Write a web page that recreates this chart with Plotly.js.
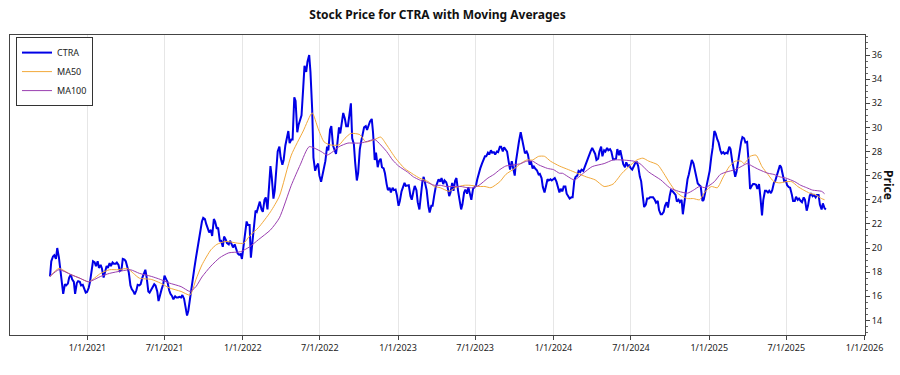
<!DOCTYPE html>
<html>
<head>
<meta charset="utf-8">
<script src="https://cdn.plot.ly/plotly-3.0.1.min.js"></script>
<style>html,body{margin:0;padding:0;background:#fff;}#chart{width:900px;height:375px;}</style>
</head>
<body>
<div id="chart"></div>
<script>
// CTRA closing prices (Mondays and Thursdays)
const dates = [
"2020-10-05","2020-10-08","2020-10-12","2020-10-15","2020-10-19","2020-10-22","2020-10-26","2020-10-29",
"2020-11-02","2020-11-05","2020-11-09","2020-11-12","2020-11-16","2020-11-19","2020-11-23","2020-11-26","2020-11-30","2020-12-03",
"2020-12-07","2020-12-10","2020-12-14","2020-12-17","2020-12-21","2020-12-24","2020-12-28","2020-12-31",
"2021-01-04","2021-01-07","2021-01-11","2021-01-14","2021-01-18","2021-01-21","2021-01-25","2021-01-28",
"2021-02-01","2021-02-04","2021-02-08","2021-02-11","2021-02-15","2021-02-18","2021-02-22","2021-02-25",
"2021-03-01","2021-03-04","2021-03-08","2021-03-11","2021-03-15","2021-03-18","2021-03-22","2021-03-25","2021-03-29","2021-04-01",
"2021-04-05","2021-04-08","2021-04-12","2021-04-15","2021-04-19","2021-04-22","2021-04-26","2021-04-29",
"2021-05-03","2021-05-06","2021-05-10","2021-05-13","2021-05-17","2021-05-20","2021-05-24","2021-05-27","2021-05-31","2021-06-03",
"2021-06-07","2021-06-10","2021-06-14","2021-06-17","2021-06-21","2021-06-24","2021-06-28","2021-07-01",
"2021-07-05","2021-07-08","2021-07-12","2021-07-15","2021-07-19","2021-07-22","2021-07-26","2021-07-29",
"2021-08-02","2021-08-05","2021-08-09","2021-08-12","2021-08-16","2021-08-19","2021-08-23","2021-08-26","2021-08-30","2021-09-02",
"2021-09-06","2021-09-09","2021-09-13","2021-09-16","2021-09-20","2021-09-23","2021-09-27","2021-09-30",
"2021-10-04","2021-10-07","2021-10-11","2021-10-14","2021-10-18","2021-10-21","2021-10-25","2021-10-28",
"2021-11-01","2021-11-04","2021-11-08","2021-11-11","2021-11-15","2021-11-18","2021-11-22","2021-11-25","2021-11-29","2021-12-02",
"2021-12-06","2021-12-09","2021-12-13","2021-12-16","2021-12-20","2021-12-23","2021-12-27","2021-12-30",
"2022-01-03","2022-01-06","2022-01-10","2022-01-13","2022-01-17","2022-01-20","2022-01-24","2022-01-27","2022-01-31","2022-02-03",
"2022-02-07","2022-02-10","2022-02-14","2022-02-17","2022-02-21","2022-02-24","2022-02-28","2022-03-03",
"2022-03-07","2022-03-10","2022-03-14","2022-03-17","2022-03-21","2022-03-24","2022-03-28","2022-03-31",
"2022-04-04","2022-04-07","2022-04-11","2022-04-14","2022-04-18","2022-04-21","2022-04-25","2022-04-28",
"2022-05-02","2022-05-05","2022-05-09","2022-05-12","2022-05-16","2022-05-19","2022-05-23","2022-05-26","2022-05-30","2022-06-02",
"2022-06-06","2022-06-09","2022-06-13","2022-06-16","2022-06-20","2022-06-23","2022-06-27","2022-06-30",
"2022-07-04","2022-07-07","2022-07-11","2022-07-14","2022-07-18","2022-07-21","2022-07-25","2022-07-28",
"2022-08-01","2022-08-04","2022-08-08","2022-08-11","2022-08-15","2022-08-18","2022-08-22","2022-08-25","2022-08-29","2022-09-01",
"2022-09-05","2022-09-08","2022-09-12","2022-09-15","2022-09-19","2022-09-22","2022-09-26","2022-09-29",
"2022-10-03","2022-10-06","2022-10-10","2022-10-13","2022-10-17","2022-10-20","2022-10-24","2022-10-27","2022-10-31","2022-11-03",
"2022-11-07","2022-11-10","2022-11-14","2022-11-17","2022-11-21","2022-11-24","2022-11-28","2022-12-01",
"2022-12-05","2022-12-08","2022-12-12","2022-12-15","2022-12-19","2022-12-22","2022-12-26","2022-12-29",
"2023-01-02","2023-01-05","2023-01-09","2023-01-12","2023-01-16","2023-01-19","2023-01-23","2023-01-26","2023-01-30","2023-02-02",
"2023-02-06","2023-02-09","2023-02-13","2023-02-16","2023-02-20","2023-02-23","2023-02-27","2023-03-02",
"2023-03-06","2023-03-09","2023-03-13","2023-03-16","2023-03-20","2023-03-23","2023-03-27","2023-03-30",
"2023-04-03","2023-04-06","2023-04-10","2023-04-13","2023-04-17","2023-04-20","2023-04-24","2023-04-27",
"2023-05-01","2023-05-04","2023-05-08","2023-05-11","2023-05-15","2023-05-18","2023-05-22","2023-05-25","2023-05-29","2023-06-01",
"2023-06-05","2023-06-08","2023-06-12","2023-06-15","2023-06-19","2023-06-22","2023-06-26","2023-06-29",
"2023-07-03","2023-07-06","2023-07-10","2023-07-13","2023-07-17","2023-07-20","2023-07-24","2023-07-27","2023-07-31","2023-08-03",
"2023-08-07","2023-08-10","2023-08-14","2023-08-17","2023-08-21","2023-08-24","2023-08-28","2023-08-31",
"2023-09-04","2023-09-07","2023-09-11","2023-09-14","2023-09-18","2023-09-21","2023-09-25","2023-09-28",
"2023-10-02","2023-10-05","2023-10-09","2023-10-12","2023-10-16","2023-10-19","2023-10-23","2023-10-26","2023-10-30","2023-11-02",
"2023-11-06","2023-11-09","2023-11-13","2023-11-16","2023-11-20","2023-11-23","2023-11-27","2023-11-30",
"2023-12-04","2023-12-07","2023-12-11","2023-12-14","2023-12-18","2023-12-21","2023-12-25","2023-12-28",
"2024-01-01","2024-01-04","2024-01-08","2024-01-11","2024-01-15","2024-01-18","2024-01-22","2024-01-25","2024-01-29","2024-02-01",
"2024-02-05","2024-02-08","2024-02-12","2024-02-15","2024-02-19","2024-02-22","2024-02-26","2024-02-29",
"2024-03-04","2024-03-07","2024-03-11","2024-03-14","2024-03-18","2024-03-21","2024-03-25","2024-03-28",
"2024-04-01","2024-04-04","2024-04-08","2024-04-11","2024-04-15","2024-04-18","2024-04-22","2024-04-25","2024-04-29","2024-05-02",
"2024-05-06","2024-05-09","2024-05-13","2024-05-16","2024-05-20","2024-05-23","2024-05-27","2024-05-30",
"2024-06-03","2024-06-06","2024-06-10","2024-06-13","2024-06-17","2024-06-20","2024-06-24","2024-06-27",
"2024-07-01","2024-07-04","2024-07-08","2024-07-11","2024-07-15","2024-07-18","2024-07-22","2024-07-25","2024-07-29","2024-08-01",
"2024-08-05","2024-08-08","2024-08-12","2024-08-15","2024-08-19","2024-08-22","2024-08-26","2024-08-29",
"2024-09-02","2024-09-05","2024-09-09","2024-09-12","2024-09-16","2024-09-19","2024-09-23","2024-09-26","2024-09-30","2024-10-03",
"2024-10-07","2024-10-10","2024-10-14","2024-10-17","2024-10-21","2024-10-24","2024-10-28","2024-10-31",
"2024-11-04","2024-11-07","2024-11-11","2024-11-14","2024-11-18","2024-11-21","2024-11-25","2024-11-28",
"2024-12-02","2024-12-05","2024-12-09","2024-12-12","2024-12-16","2024-12-19","2024-12-23","2024-12-26","2024-12-30","2025-01-02",
"2025-01-06","2025-01-09","2025-01-13","2025-01-16","2025-01-20","2025-01-23","2025-01-27","2025-01-30",
"2025-02-03","2025-02-06","2025-02-10","2025-02-13","2025-02-17","2025-02-20","2025-02-24","2025-02-27",
"2025-03-03","2025-03-06","2025-03-10","2025-03-13","2025-03-17","2025-03-20","2025-03-24","2025-03-27","2025-03-31","2025-04-03",
"2025-04-07","2025-04-10","2025-04-14","2025-04-17","2025-04-21","2025-04-24","2025-04-28","2025-05-01",
"2025-05-05","2025-05-08","2025-05-12","2025-05-15","2025-05-19","2025-05-22","2025-05-26","2025-05-29",
"2025-06-02","2025-06-05","2025-06-09","2025-06-12","2025-06-16","2025-06-19","2025-06-23","2025-06-26","2025-06-30","2025-07-03",
"2025-07-07","2025-07-10","2025-07-14","2025-07-17","2025-07-21","2025-07-24","2025-07-28","2025-07-31",
"2025-08-04","2025-08-07","2025-08-11","2025-08-14","2025-08-18","2025-08-21","2025-08-25","2025-08-28",
"2025-09-01","2025-09-04","2025-09-08","2025-09-11","2025-09-15","2025-09-18","2025-09-22","2025-09-25","2025-09-29","2025-10-02"
];
const ctra = [
17.65,18.9,19.3,19.4,19.1,20.0,19.2,18.2,
16.7,16.2,17.0,16.9,17.05,17.55,17.8,17.4,17.2,16.2,
17.1,17.25,17.2,16.9,16.95,16.7,16.3,16.35,
16.7,17.2,18.0,18.9,18.8,18.5,18.9,18.35,
18.6,18.3,17.55,17.9,18.5,18.35,18.75,18.5,
18.8,18.7,18.7,18.8,18.6,18.1,18.2,19.1,19.05,18.9,
18.4,18.0,16.9,16.6,16.4,16.15,16.5,16.95,
16.9,17.0,17.55,17.8,18.2,17.6,16.4,16.3,16.6,16.7,
17.0,16.9,16.4,15.6,16.3,16.55,17.0,17.7,
17.4,17.2,16.5,16.2,16.0,15.75,16.0,15.9,
15.9,15.95,15.9,16.1,15.8,15.0,14.4,14.8,15.9,16.6,
17.8,18.3,19.2,19.8,20.7,21.5,22.2,22.5,
22.4,22.0,21.5,21.3,21.5,21.0,22.4,22.2,
21.6,21.7,20.6,20.6,20.1,20.95,20.7,20.4,20.3,20.6,
20.3,20.05,20.3,19.9,19.55,19.45,19.5,19.1,
20.2,21.1,22.2,21.9,21.9,19.2,20.6,21.9,23.1,23.0,
23.4,23.85,23.2,23.0,24.0,24.2,23.2,24.5,
26.8,25.9,24.1,24.75,26.4,28.0,28.4,27.5,
26.9,27.3,28.5,28.95,29.7,28.7,29.0,29.0,
32.5,32.2,29.6,30.2,30.7,31.0,33.3,35.1,34.6,35.45,
36.0,34.6,31.5,27.5,26.4,26.75,27.0,26.0,
25.5,26.0,26.6,27.2,28.4,28.1,29.8,30.1,
28.5,28.2,27.8,28.6,30.0,29.5,30.7,31.2,30.7,30.1,
30.1,30.8,32.0,29.1,28.6,27.1,25.6,26.2,
28.2,28.8,29.7,30.0,30.1,29.8,30.2,30.5,30.7,29.6,
27.3,27.9,26.7,27.2,27.4,26.7,26.6,26.2,
25.3,24.8,25.0,24.6,25.0,24.8,24.85,24.4,
23.5,23.9,24.7,25.0,25.4,25.15,25.2,25.2,24.3,24.0,
24.7,25.15,24.8,23.8,23.2,24.3,25.5,25.9,
25.3,24.8,23.5,22.95,23.5,23.5,24.4,25.0,
25.4,25.7,25.5,25.8,25.3,25.6,25.45,25.1,
24.3,24.6,25.4,24.75,25.6,25.8,24.7,23.9,23.2,23.6,
24.6,24.85,24.5,25.05,24.4,24.0,24.9,25.05,
25.2,25.7,26.3,26.6,27.0,27.3,27.6,27.6,27.9,27.75,
28.1,27.9,27.95,27.75,28.0,27.95,28.4,28.4,
28.0,28.35,28.1,28.0,27.1,26.5,27.2,26.6,
26.0,27.2,28.4,28.85,29.6,29.0,28.5,27.85,28.0,27.75,
26.9,27.2,26.6,26.75,26.55,26.45,26.1,26.15,
25.8,25.05,24.6,25.1,25.7,25.6,25.7,25.6,
25.7,25.8,25.5,25.15,24.6,24.9,24.7,25.1,25.1,24.5,
24.3,24.1,24.2,24.2,25.6,25.9,26.0,26.4,
26.3,26.5,26.4,26.7,27.15,27.45,27.7,28.0,
28.3,28.1,27.8,27.3,27.4,28.0,28.4,27.6,28.1,28.0,
28.3,28.1,28.2,28.0,27.35,27.35,27.4,28.2,
27.7,28.1,27.4,26.95,26.7,27.1,26.8,26.85,
26.6,26.5,26.8,27.05,27.1,26.8,25.9,25.55,24.3,23.4,
23.6,24.1,24.1,24.2,24.2,24.2,24.0,23.75,
23.9,23.15,22.8,22.8,23.0,23.5,23.8,23.35,24.3,24.8,
24.7,24.6,24.4,23.85,24.0,23.8,24.0,22.8,
23.9,24.9,25.7,26.1,27.0,27.3,27.0,26.55,
25.8,25.35,25.2,25.1,23.9,24.0,24.7,25.3,25.9,26.4,
27.6,28.3,29.7,29.5,29.0,28.75,28.1,27.85,
27.95,27.8,27.9,27.85,28.4,28.2,27.2,26.55,
25.9,26.3,27.3,27.9,28.8,29.2,29.1,28.75,28.8,27.4,
24.9,25.1,25.3,25.3,25.25,24.9,25.3,24.3,
22.7,24.0,24.75,24.75,24.6,24.75,24.55,24.8,
25.4,25.55,26.0,26.45,26.85,26.7,25.9,25.55,25.6,25.2,
25.05,25.0,24.45,23.9,23.9,24.25,24.0,24.1,
23.9,23.8,24.2,24.0,23.1,23.5,24.3,24.55,
24.3,24.4,24.2,24.4,24.4,23.6,23.2,23.7,23.3,23.2
];
// 50-day moving average
const ma50Dates = ["2020-10-05","2020-10-26","2020-11-23","2020-12-14","2021-01-04","2021-02-01","2021-02-22","2021-03-15","2021-04-05","2021-04-19","2021-05-03","2021-05-31","2021-06-21","2021-07-12","2021-08-09","2021-08-30","2021-09-13","2021-09-27","2021-10-18","2021-11-01","2021-11-22","2021-12-20","2022-01-03","2022-01-17","2022-02-07","2022-03-07","2022-03-28","2022-04-25","2022-05-23","2022-06-13","2022-06-27","2022-07-11","2022-07-25","2022-08-15","2022-08-29","2022-09-12","2022-10-03","2022-10-17","2022-11-07","2022-11-21","2022-12-05","2022-12-26","2023-01-16","2023-02-06","2023-02-20","2023-03-13","2023-03-27","2023-04-10","2023-05-01","2023-05-15","2023-06-05","2023-06-19","2023-07-10","2023-07-24","2023-08-07","2023-08-28","2023-09-11","2023-10-02","2023-10-16","2023-10-30","2023-11-13","2023-11-27","2023-12-11","2023-12-25","2024-01-15","2024-02-05","2024-02-26","2024-03-18","2024-04-08","2024-04-29","2024-05-20","2024-06-10","2024-07-01","2024-07-15","2024-07-29","2024-08-12","2024-09-02","2024-09-16","2024-09-30","2024-10-14","2024-10-28","2024-11-11","2024-11-25","2024-12-09","2024-12-23","2025-01-06","2025-01-20","2025-02-03","2025-02-17","2025-03-03","2025-03-17","2025-03-24","2025-04-07","2025-04-21","2025-05-05","2025-05-19","2025-06-02","2025-06-16","2025-06-30","2025-07-14","2025-07-28","2025-08-11","2025-08-25","2025-09-08","2025-09-22","2025-09-29"];
const ma50 = [17.65,18.3,17.8,17.5,17.2,17.9,18.2,18.2,18.3,17.9,17.5,17.4,17.1,16.7,16.4,16.1,17.4,18.6,19.85,20.3,20.55,20.4,20.4,21.0,21.7,23.0,24.3,27.7,29.7,31.2,29.9,28.8,28.55,28.55,29.1,29.5,29.4,28.8,29.0,29.2,28.55,27.45,26.6,26.1,25.8,25.5,25.1,25.0,24.7,25.0,25.2,25.2,25.1,25.1,25.0,25.5,26.1,26.6,27.0,27.3,27.3,27.6,27.6,27.2,26.8,26.5,26.2,25.9,25.65,25.1,25.3,26.2,26.9,27.3,27.45,27.2,26.9,26.2,25.4,24.7,24.3,24.1,24.1,24.0,24.7,25.1,25.0,25.9,26.75,27.2,27.2,27.0,27.6,27.7,26.75,26.1,25.5,25.4,25.5,25.5,25.1,24.8,24.55,24.4,24.1,24.0];
// 100-day moving average
const ma100Dates = ["2020-10-05","2020-10-26","2020-11-23","2020-12-14","2021-01-04","2021-02-01","2021-02-22","2021-03-22","2021-04-12","2021-05-03","2021-05-31","2021-06-21","2021-07-12","2021-08-09","2021-08-30","2021-09-13","2021-09-27","2021-10-18","2021-11-08","2021-11-29","2021-12-27","2022-01-17","2022-02-07","2022-03-07","2022-03-28","2022-04-25","2022-05-16","2022-06-06","2022-07-04","2022-07-18","2022-08-01","2022-08-15","2022-09-05","2022-09-19","2022-10-03","2022-10-17","2022-11-07","2022-11-21","2022-12-05","2022-12-19","2023-01-02","2023-01-23","2023-02-06","2023-02-20","2023-03-06","2023-03-27","2023-04-10","2023-04-24","2023-05-08","2023-05-29","2023-06-12","2023-06-26","2023-07-10","2023-07-31","2023-08-14","2023-08-28","2023-09-11","2023-10-02","2023-10-16","2023-10-30","2023-11-13","2023-11-27","2023-12-18","2024-01-01","2024-01-15","2024-01-22","2024-02-19","2024-03-11","2024-04-01","2024-04-29","2024-05-20","2024-06-10","2024-07-08","2024-07-22","2024-08-12","2024-09-09","2024-09-30","2024-10-21","2024-11-11","2024-11-25","2024-12-09","2024-12-23","2025-01-13","2025-01-27","2025-02-10","2025-03-03","2025-03-17","2025-03-31","2025-04-14","2025-04-28","2025-05-19","2025-06-02","2025-06-16","2025-06-30","2025-07-21","2025-08-04","2025-08-18","2025-09-01","2025-09-22","2025-09-29"];
const ma100 = [17.65,18.2,17.8,17.5,17.2,17.65,17.9,18.1,18.2,17.9,17.65,17.4,17.1,16.8,16.4,16.8,17.6,18.5,19.2,19.6,19.7,20.1,20.7,21.5,22.5,25.2,26.9,28.4,28.0,27.7,28.0,28.4,28.7,28.7,28.7,28.8,29.0,28.55,28.0,27.3,26.8,26.3,25.9,25.65,25.5,25.2,25.2,25.1,25.1,25.1,25.0,25.0,25.2,25.8,26.1,26.5,26.8,26.9,27.0,27.2,27.2,26.9,26.6,26.5,26.2,26.2,25.65,26.2,26.75,27.0,27.3,27.3,27.2,27.0,26.3,25.65,25.0,24.7,24.55,24.8,25.1,25.0,25.5,26.1,26.3,26.5,26.75,27.0,26.75,26.5,26.2,26.1,25.9,25.8,25.5,25.2,25.0,24.8,24.7,24.5];

const xTickVals = ["2021-01-01","2021-07-01","2022-01-01","2022-07-01","2023-01-01","2023-07-01","2024-01-01","2024-07-01","2025-01-01","2025-07-01","2026-01-01"];
const xTickText = ["1/1/2021","7/1/2021","1/1/2022","7/1/2022","1/1/2023","7/1/2023","1/1/2024","7/1/2024","1/1/2025","7/1/2025","1/1/2026"];

const FONT = "'Noto Sans', 'Open Sans', sans-serif";

const traces = [
  {x: dates, y: ctra, type: 'scatter', mode: 'lines', name: 'CTRA',
   line: {color: '#0000e6', width: 2}},
  {x: ma50Dates, y: ma50, type: 'scatter', mode: 'lines', name: 'MA50',
   line: {color: '#f2a93b', width: 1, shape: 'spline', smoothing: 0.6}},
  {x: ma100Dates, y: ma100, type: 'scatter', mode: 'lines', name: 'MA100',
   line: {color: '#9a3fb0', width: 1, shape: 'spline', smoothing: 0.6}}
];

const layout = {
  width: 900, height: 375,
  margin: {l: 10, r: 35, t: 35, b: 40},
  paper_bgcolor: '#ffffff', plot_bgcolor: '#ffffff',
  font: {family: FONT, size: 9, color: '#222'},
  title: {text: '<b>Stock Price for CTRA with Moving Averages</b>', font: {family: FONT, size: 12, color: '#111'},
          x: 0.5, xref: 'paper', xanchor: 'center', y: 0.96, yref: 'container', yanchor: 'middle'},
  showlegend: true,
  legend: {x: 0.007, y: 0.993, xanchor: 'left', yanchor: 'top', bgcolor: '#ffffff',
           bordercolor: '#333', borderwidth: 1, font: {family: FONT, size: 9, color: '#222'},
           tracegroupgap: 0},
  xaxis: {type: 'date', range: ['2020-07-03', '2026-01-02'],
          tickvals: xTickVals, ticktext: xTickText, tickangle: 0,
          showgrid: true, gridcolor: '#e6e6e6', gridwidth: 1,
          ticks: 'outside', ticklen: 4, tickcolor: '#444',
          showline: true, linecolor: '#444', linewidth: 1, mirror: true,
          zeroline: false, tickfont: {family: FONT, size: 9, color: '#222'}},
  yaxis: {side: 'right', range: [12.79, 37.66], dtick: 2, tick0: 0,
          showgrid: false, zeroline: false,
          ticks: 'outside', ticklen: 4, tickcolor: '#444',
          minor: {dtick: 0.5, ticks: 'outside', ticklen: 2, tickcolor: '#666', showgrid: false},
          showline: true, linecolor: '#444', linewidth: 1, mirror: true,
          tickfont: {family: FONT, size: 9, color: '#222'}},
  shapes: [{type: 'rect', xref: 'paper', yref: 'paper', layer: 'above',
            x0: 0.0088, x1: 0.0947, y0: 0.7657, y1: 0.9867,
            line: {width: 0}, fillcolor: 'rgba(90,90,90,0.55)'}],
  annotations: [{text: '<b>Price</b>', xref: 'paper', yref: 'paper', x: 1.028, y: 0.5,
                 xanchor: 'center', yanchor: 'middle', textangle: 90, showarrow: false,
                 font: {family: FONT, size: 12, color: '#111'}}]
};

Plotly.newPlot('chart', traces, layout, {displayModeBar: false, staticPlot: true});
</script>
</body>
</html>
